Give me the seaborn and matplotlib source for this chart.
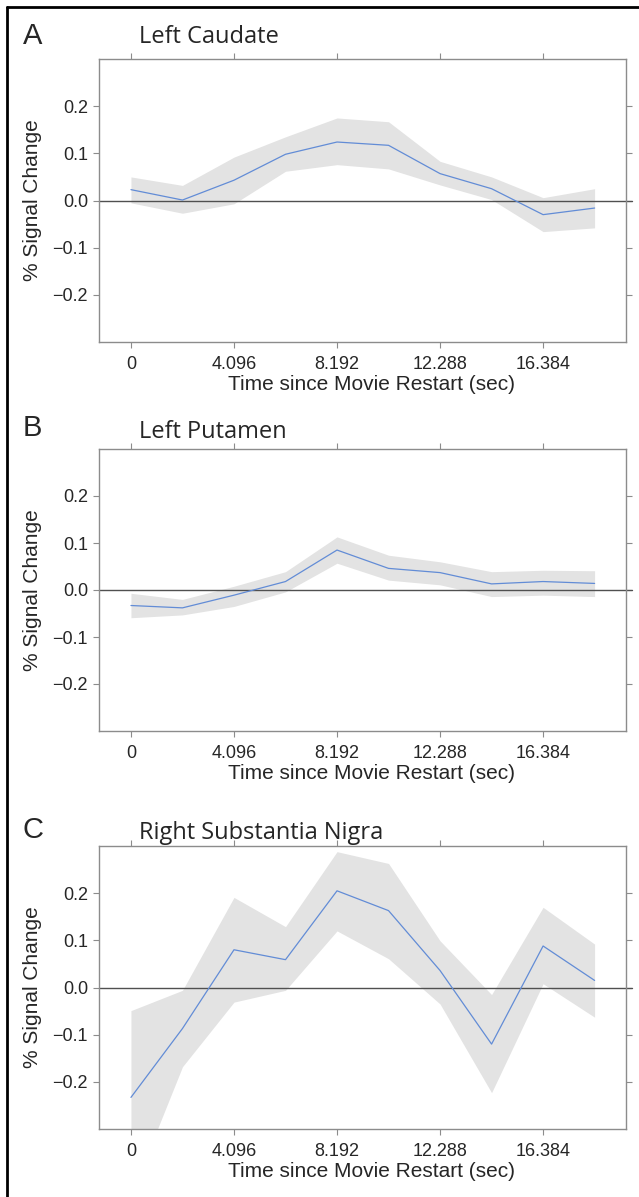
import numpy as np
import pandas as pd
import matplotlib.pyplot as plt
import seaborn as sns
from matplotlib.lines import Line2D

sns.set_style("white")
plt.rcParams['font.family'] = ['Liberation Sans', 'DejaVu Sans']

# time since movie restart (TR = 2.048 s)
times = [0, 2.048, 4.096, 6.144, 8.192, 10.24, 12.288, 14.336, 16.384, 18.432]

caudate_mean = [0.023, 0.001, 0.043, 0.098, 0.124, 0.117, 0.057, 0.025, -0.030, -0.016]
caudate_upper = [0.050, 0.032, 0.092, 0.135, 0.175, 0.167, 0.083, 0.050, 0.006, 0.025]
caudate_lower = [-0.005, -0.027, -0.007, 0.062, 0.076, 0.067, 0.033, 0.002, -0.066, -0.058]

putamen_mean = [-0.033, -0.038, -0.011, 0.018, 0.085, 0.046, 0.037, 0.013, 0.018, 0.014]
putamen_upper = [-0.007, -0.020, 0.008, 0.039, 0.113, 0.074, 0.060, 0.039, 0.042, 0.041]
putamen_lower = [-0.059, -0.053, -0.035, -0.004, 0.057, 0.021, 0.011, -0.014, -0.011, -0.014]

nigra_mean = [-0.233, -0.087, 0.080, 0.059, 0.205, 0.163, 0.036, -0.120, 0.088, 0.015]
nigra_upper = [-0.049, -0.006, 0.191, 0.129, 0.288, 0.263, 0.099, -0.015, 0.170, 0.092]
nigra_lower = [-0.44, -0.168, -0.031, -0.006, 0.120, 0.061, -0.035, -0.223, 0.008, -0.063]

panel_letters = ["A", "B", "C"]
panel_titles = ["Left Caudate", "Left Putamen", "Right Substantia Nigra"]
xtick_vals = [0, 4.096, 8.192, 12.288, 16.384]
xtick_labels = ["0", "4.096", "8.192", "12.288", "16.384"]
ytick_vals = [-0.2, -0.1, 0.0, 0.1, 0.2]
ytick_labels = ["\u22120.2", "\u22120.1", "0.0", "0.1", "0.2"]

panels = [
    (caudate_mean, caudate_lower, caudate_upper),
    (putamen_mean, putamen_lower, putamen_upper),
    (nigra_mean, nigra_lower, nigra_upper),
]

W, H = 639, 1197
fig = plt.figure(figsize=(W / 100, H / 100), dpi=100)

# axes boxes in pixels: (left, right, top, bottom)
boxes = [(99, 626, 59, 342), (99, 626, 449, 731), (99, 626, 846, 1129)]
letter_y = [36, 428, 830]
title_y = [37, 432, 833]

spine_col = '#8c8c8c'
for i, (mean, lo, hi) in enumerate(panels):
    l, r, t, b = boxes[i]
    ax = fig.add_axes([l / W, 1 - b / H, (r - l) / W, (b - t) / H])
    df = pd.DataFrame({'time': times, 'signal': mean})
    ax.fill_between(times, lo, hi, color='#e3e3e3', linewidth=0, zorder=1)
    ax.axhline(0, color='#505050', linewidth=1.0, zorder=2, xmax=1.012, clip_on=False)
    sns.lineplot(data=df, x='time', y='signal', ax=ax, color='#628cd6',
                 linewidth=0.9, zorder=3)
    ax.set_xlim(-1.27, 19.68)
    ax.set_ylim(-0.3, 0.3)
    ax.set_xticks(xtick_vals)
    ax.set_xticklabels(xtick_labels)
    ax.set_yticks(ytick_vals)
    ax.set_yticklabels(ytick_labels)
    ax.tick_params(axis='both', direction='out', length=4, width=0.8, color=spine_col,
                   labelsize=13, pad=4, top=True, right=True, left=True, bottom=True,
                   labeltop=False, labelright=False)
    ax.tick_params(axis='x', pad=6)
    for s in ax.spines.values():
        s.set_color(spine_col)
        s.set_linewidth(1.0)
    ax.set_xlabel('Time since Movie Restart (sec)', fontsize=15)
    ax.set_ylabel('% Signal Change', fontsize=15)
    ax.xaxis.set_label_coords(0.518, -0.118)
    ax.yaxis.set_label_coords(-0.108, 0.5)
    fig.text(23 / W, 1 - letter_y[i] / H, panel_letters[i], fontsize=21,
             ha='left', va='center')
    fig.text(139 / W, 1 - title_y[i] / H, panel_titles[i], fontsize=17,
             family=['Open Sans', 'DejaVu Sans'], ha='left', va='center')

# partial frame (left and top edges) of the figure
fig.add_artist(Line2D([7 / W, 7 / W], [0, 1 - 7 / H], transform=fig.transFigure,
                      color='black', linewidth=2))
fig.add_artist(Line2D([7 / W, 1], [1 - 7 / H, 1 - 7 / H], transform=fig.transFigure,
                      color='black', linewidth=2))

plt.savefig('out.png', dpi=100, facecolor='white')
plt.close()
